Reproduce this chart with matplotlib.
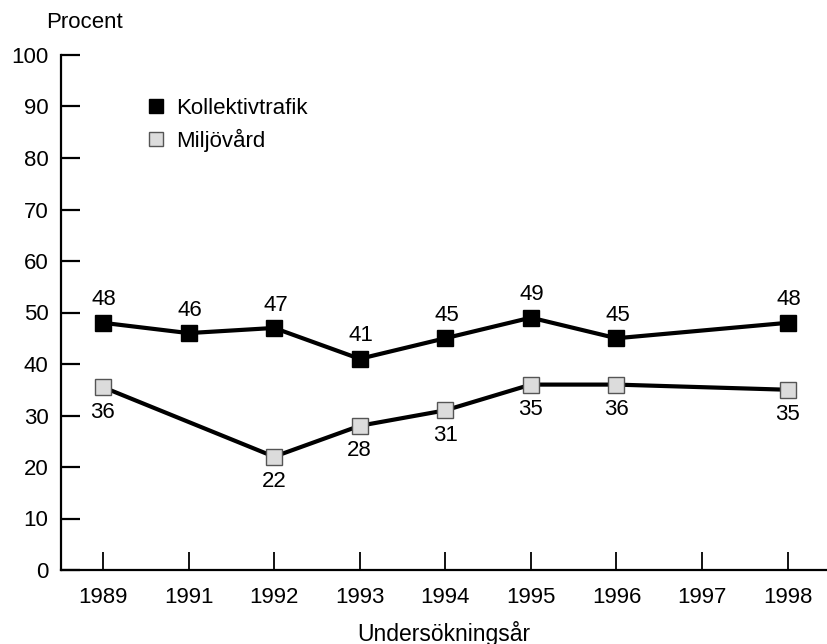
import matplotlib
matplotlib.use("Agg")
import matplotlib.pyplot as plt
from matplotlib.lines import Line2D

plt.rcParams['font.family'] = ['Liberation Sans', 'DejaVu Sans']

# Data
years = ['1989', '1991', '1992', '1993', '1994', '1995', '1996', '1997', '1998']
koll_years = ['1989', '1991', '1992', '1993', '1994', '1995', '1996', '1998']
koll_values = [48, 46, 47, 41, 45, 49, 45, 48]
koll_labels = ['48', '46', '47', '41', '45', '49', '45', '48']
milj_years = ['1989', '1992', '1993', '1994', '1995', '1996', '1998']
milj_values = [35.5, 22, 28, 31, 36, 36, 35]
milj_labels = ['36', '22', '28', '31', '35', '36', '35']

W, H = 827, 644
fs = 16
fig = plt.figure(figsize=(W / 100, H / 100), dpi=100)
ax = fig.add_axes([61 / W, 74 / H, (W - 61) / W, 515 / H])

kx = [years.index(y) for y in koll_years]
mx = [years.index(y) for y in milj_years]

ax.plot(kx, koll_values, color='black', lw=3, marker='s', ms=11,
        mfc='black', mec='black', zorder=3)
ax.plot(mx, milj_values, color='black', lw=3, marker='s', ms=11,
        mfc='#dcdcdc', mec='#555555', mew=1, zorder=3)

for x, v, t in zip(kx, koll_values, koll_labels):
    ax.annotate(t, (x, v), xytext=(1, 16.5), textcoords='offset points',
                ha='center', va='center', fontsize=fs)
for x, v, t in zip(mx, milj_values, milj_labels):
    ax.annotate(t, (x, v), xytext=(0, -18), textcoords='offset points',
                ha='center', va='center', fontsize=fs)

ax.set_xlim(-0.49, 8.46)
ax.set_ylim(0, 100)
ax.set_yticks(range(0, 101, 10))
ax.set_xticks(range(len(years)))
ax.set_xticklabels(years)

for s in ['top', 'right']:
    ax.spines[s].set_visible(False)
for s in ['left', 'bottom']:
    ax.spines[s].set_linewidth(1.6)

ax.tick_params(axis='y', direction='in', length=13.5, width=1.6, pad=9, labelsize=fs)
ax.tick_params(axis='x', direction='in', length=13, width=1.3, pad=12, labelsize=fs)

handles = [
    Line2D([], [], linestyle='None', marker='s', ms=10, mfc='black', mec='black'),
    Line2D([], [], linestyle='None', marker='s', ms=10, mfc='#dcdcdc', mec='#555555', mew=1),
]
ax.legend(handles, ['Kollektivtrafik', 'Miljövård'], loc='upper left',
          bbox_to_anchor=(0.081, 0.955), frameon=False, fontsize=fs,
          handletextpad=0.3, labelspacing=0.42, handlelength=1.2)

fig.text(85 / W, 1 - 22 / H, 'Procent', ha='center', va='center', fontsize=fs)
fig.text(444 / W, 1 - 633 / H, 'Undersökningsår', ha='center', va='center', fontsize=16.5)

fig.savefig('out.png', dpi=100)
